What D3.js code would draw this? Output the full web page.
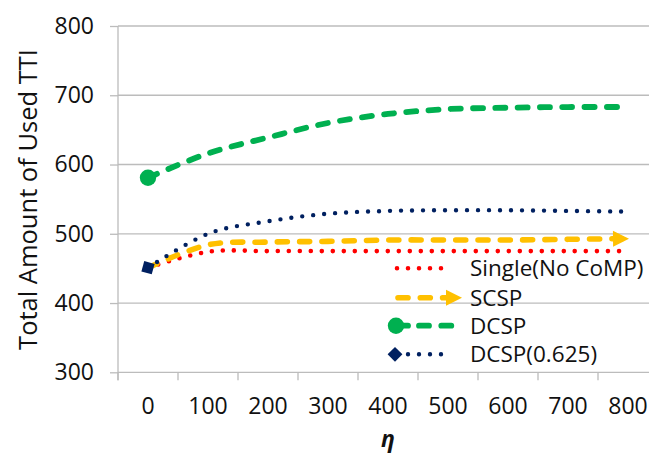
<!DOCTYPE html>
<html>
<head>
<meta charset="utf-8">
<script src="https://cdn.jsdelivr.net/npm/d3@7"></script>
<style>
  html, body { margin: 0; padding: 0; background: #fff; }
  svg { display: block; }
  svg text { font-family: "Open Sans", sans-serif; }
</style>
</head>
<body>
<svg id="chart" width="649" height="455"></svg>
<script>
// η values on the category axis
const etaLabels = ["0", "100", "200", "300", "400", "500", "600", "700", "800"];
// Total amount of used TTI per scheme
const singleNoComp = [451, 474, 475, 475, 475, 475, 475, 475, 475];
const scsp = [451, 484, 488, 489, 491, 491, 491, 492, 493];
const dcsp = [581, 616, 639, 660, 673, 680, 682, 683, 683];
const dcsp0625 = [451, 500, 518, 529, 533, 534, 534, 533, 532];
const yTicks = [300, 400, 500, 600, 700, 800];
const seriesNames = ["Single(No CoMP)", "SCSP", "DCSP", "DCSP(0.625)"];

const svg = d3.select("#chart");
const W = 649;
const plotLeft = 118, plotRight = 658, plotTop = 26, plotBottom = 372.3;
const fontFamily = "'Open Sans', sans-serif";

const x = d3.scaleBand().domain(etaLabels).range([plotLeft, plotRight]).padding(0);
const xc = d => x(d) + x.bandwidth() / 2;
const y = d3.scaleLinear().domain([300, 800]).range([plotBottom, plotTop]);

const gridColor = "#bcbcbc";
const textColor = "#111111";

// horizontal gridlines
svg.append("g").selectAll("line")
  .data(yTicks.slice(1))
  .join("line")
  .attr("x1", plotLeft).attr("x2", W + 20)
  .attr("y1", d => y(d)).attr("y2", d => y(d))
  .attr("stroke", gridColor).attr("stroke-width", 1.3);

// y axis
const yAxis = svg.append("g")
  .attr("transform", `translate(${plotLeft},0)`)
  .call(d3.axisLeft(y).tickValues(yTicks).tickSize(8).tickPadding(16).tickSizeOuter(0))
  .attr("font-family", fontFamily);
yAxis.select(".domain").attr("stroke", gridColor).attr("stroke-width", 1.3)
  .attr("d", `M0,${plotTop}V${plotBottom + 8}`);
yAxis.selectAll(".tick line").attr("stroke", gridColor).attr("stroke-width", 1.3);
yAxis.selectAll(".tick text").attr("fill", textColor).style("font-size", "23px");

// x axis: labels centred in each category band
const xAxis = svg.append("g")
  .attr("transform", `translate(0,${plotBottom})`)
  .call(d3.axisBottom(x).tickSize(0).tickPadding(25.5).tickSizeOuter(0))
  .attr("font-family", fontFamily);
xAxis.select(".domain").attr("stroke", gridColor).attr("stroke-width", 1.3)
  .attr("d", `M${plotLeft},0H${W + 20}`);
xAxis.selectAll(".tick text").attr("fill", textColor).style("font-size", "23px");

// x tick marks at category boundaries
const boundaries = etaLabels.map(d => x(d)).concat([x(etaLabels[etaLabels.length - 1]) + x.bandwidth()]);
svg.append("g").selectAll("line")
  .data(boundaries)
  .join("line")
  .attr("x1", d => d).attr("x2", d => d)
  .attr("y1", plotBottom).attr("y2", plotBottom + 8)
  .attr("stroke", gridColor).attr("stroke-width", 1.3);

// axis titles
svg.append("text")
  .attr("transform", `translate(37,199.5) rotate(-90)`)
  .attr("text-anchor", "middle")
  .attr("fill", textColor)
  .style("font-size", "25.5px")
  .text("Total Amount of Used TTI");

svg.append("text")
  .attr("x", (plotLeft + plotRight) / 2).attr("y", 447)
  .attr("text-anchor", "middle")
  .attr("fill", textColor)
  .style("font-size", "23px").style("font-weight", "bold").style("font-style", "italic")
  .text("η");

// series styles
const styles = [
  { values: singleNoComp, color: "#ff0000", width: 4.6, dash: "0 11" },
  { values: scsp, color: "#ffc000", width: 5.6, dash: "10 12.3", end: "arrow" },
  { values: dcsp, color: "#00b050", width: 5.8, dash: "10 12.3", start: "circle" },
  { values: dcsp0625, color: "#002060", width: 4.4, dash: "0 11", start: "diamond" }
];

const line = d3.line()
  .x((d, i) => xc(etaLabels[i]))
  .y(d => y(d))
  .curve(d3.curveCardinal.tension(0));

const plot = svg.append("g");

function drawCircle(g, cx, cy, color) {
  g.append("circle").attr("cx", cx).attr("cy", cy).attr("r", 8.2).attr("fill", color);
}
function drawDiamond(g, cx, cy, angleDeg, color, s) {
  g.append("path")
    .attr("d", `M${-s},0L0,${-s}L${s},0L0,${s}Z`)
    .attr("transform", `translate(${cx},${cy}) rotate(${angleDeg})`)
    .attr("fill", color);
}
function drawArrow(g, tx, ty, angleDeg, color) {
  g.append("path")
    .attr("d", "M0,0L-16,-8L-16,8Z")
    .attr("transform", `translate(${tx},${ty}) rotate(${angleDeg})`)
    .attr("fill", color);
}

styles.forEach(s => {
  const g = plot.append("g");
  g.append("path")
    .attr("d", line(s.values))
    .attr("fill", "none")
    .attr("stroke", s.color)
    .attr("stroke-width", s.width)
    .attr("stroke-linecap", "round")
    .attr("stroke-dasharray", s.dash);
  const n = s.values.length;
  const x0 = xc(etaLabels[0]), y0 = y(s.values[0]);
  const x1 = xc(etaLabels[1]), y1 = y(s.values[1]);
  if (s.start === "circle") {
    drawCircle(g, x0, y0, s.color);
  } else if (s.start === "diamond") {
    const a = Math.atan2(y1 - y0, x1 - x0) * 180 / Math.PI;
    drawDiamond(g, x0, y0, a, s.color, 7.6);
  }
  if (s.end === "arrow") {
    const xe = xc(etaLabels[n - 1]), ye = y(s.values[n - 1]);
    const xp = xc(etaLabels[n - 2]), yp = y(s.values[n - 2]);
    const a = Math.atan2(ye - yp, xe - xp) * 180 / Math.PI;
    drawArrow(g, xe + 1, ye, a, s.color);
  }
});

// legend
const legendRows = [268.3, 297.7, 325.7, 354.3];
const legend = svg.append("g");
styles.forEach((s, i) => {
  const ly = legendRows[i];
  const g = legend.append("g");
  let x1 = 397, x2 = 452;
  if (s.start) x1 = 408;
  if (s.end === "arrow") { x1 = 398; x2 = 448; }
  if (s.start === "circle") { x1 = 419; x2 = 452; }
  g.append("line")
    .attr("x1", x1).attr("x2", x2).attr("y1", ly).attr("y2", ly)
    .attr("stroke", s.color)
    .attr("stroke-width", s.width)
    .attr("stroke-linecap", "round")
    .attr("stroke-dasharray", s.dash);
  if (s.start === "circle") {
    drawCircle(g, 396, ly, s.color);
    g.append("line").attr("x1", 396).attr("x2", 408).attr("y1", ly).attr("y2", ly)
      .attr("stroke", s.color).attr("stroke-width", s.width).attr("stroke-linecap", "round");
  }
  if (s.start === "diamond") drawDiamond(g, 395, ly, 0, s.color, 7.4);
  if (s.end === "arrow") drawArrow(g, 462, ly, 0, s.color);
  g.append("text")
    .attr("x", 470).attr("y", ly).attr("dy", "0.35em")
    .attr("fill", textColor)
    .style("font-size", "22.5px")
    .text(seriesNames[i]);
});
</script>
</body>
</html>
